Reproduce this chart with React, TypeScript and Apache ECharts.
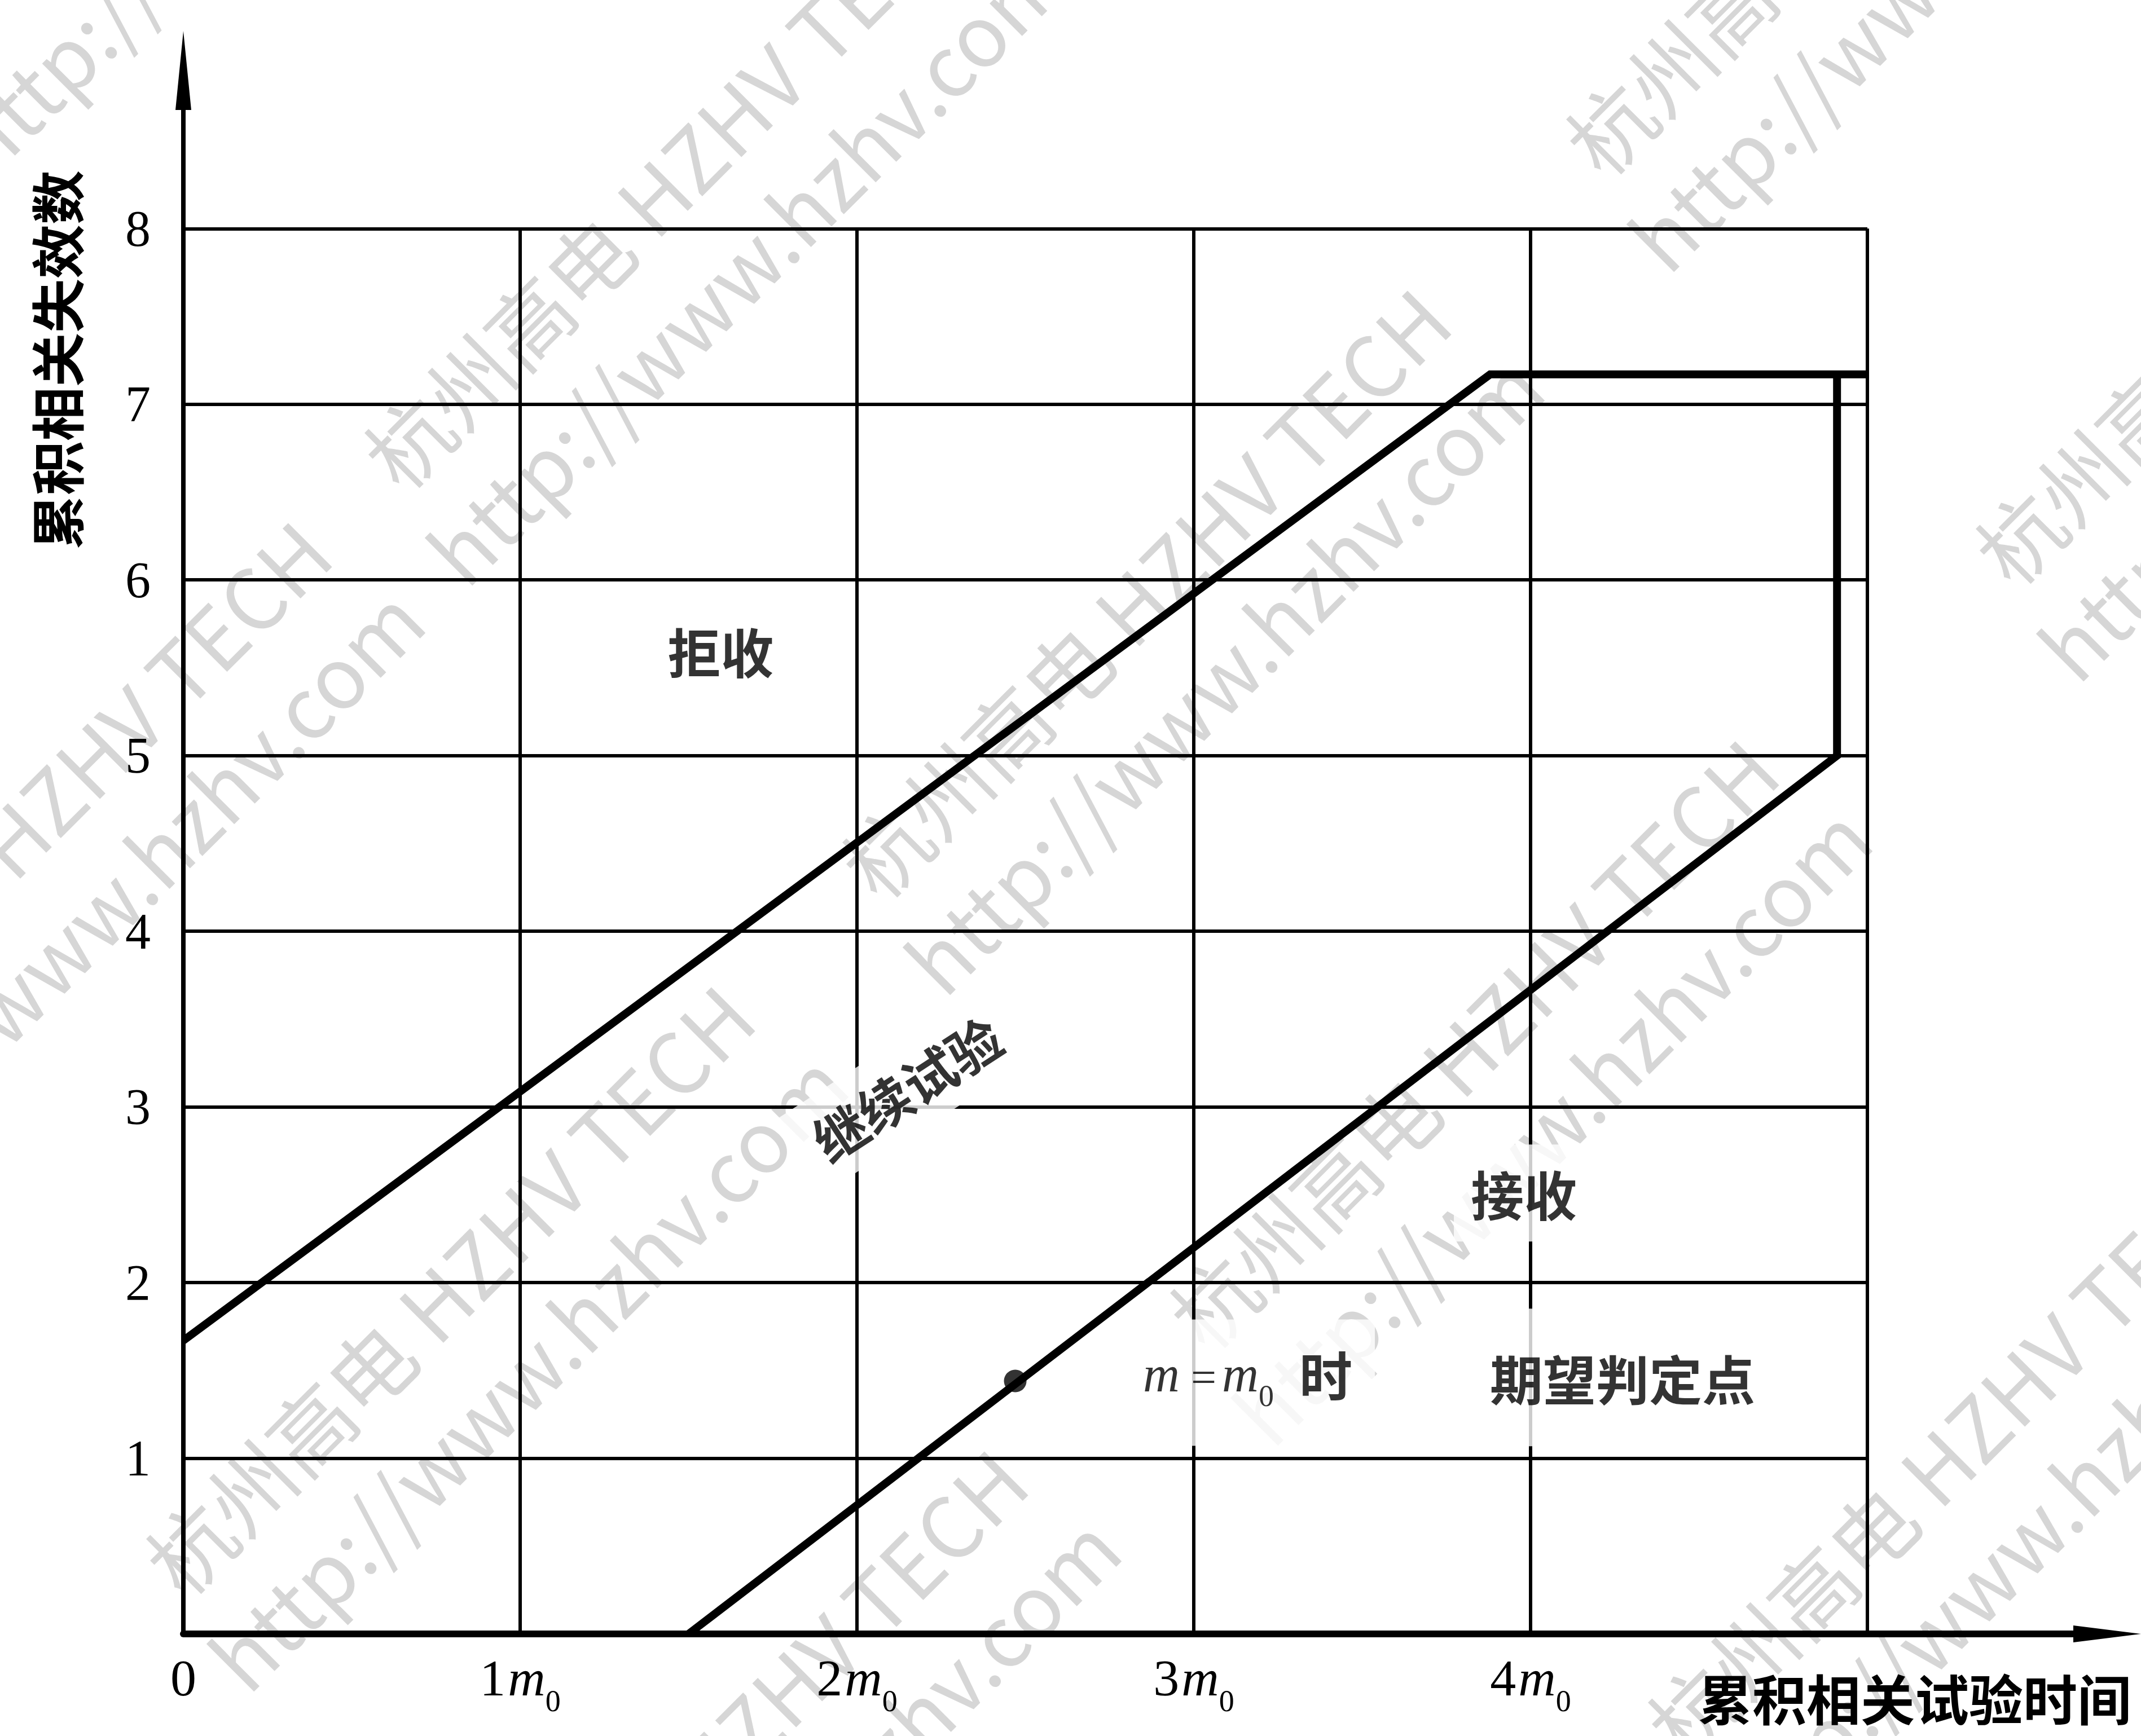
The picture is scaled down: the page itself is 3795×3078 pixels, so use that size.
import React, { useEffect, useRef } from 'react';
import * as echarts from 'echarts';

// ---- data ----
const xTicks = [0, 1, 2, 3, 4, 5]; // multiples of m0
const yTicks = [1, 2, 3, 4, 5, 6, 7, 8];
const xTickMultiples = [1, 2, 3, 4];
const xMaxGrid = 5;
const yMaxGrid = 8;
const rejectLine = [
  [0, 1.67],
  [3.88, 7.17],
  [5.0, 7.17],
];
const acceptLine = [
  [1.5, 0],
  [4.91, 5.0],
  [4.91, 7.17],
];
const decisionPoint = [[2.47, 1.44]];
const regionNames = ['拒收', '继续试验', '接收', 'm = m0 时', '期望判定点'];
const regionPositions = [
  [1.595, 5.6],
  [2.146, 3.11],
  [3.98, 2.51],
  [3.16, 1.43],
  [4.273, 1.46],
];
const yAxisTitle = '累积相关失效数';
const xAxisTitle = '累积相关试验时间';
const watermarkLine1 = '杭州高电 HZHV TECH';
const watermarkLine2 = 'http://www.hzhv.com';

export default function App() {
  const ref = useRef<HTMLDivElement>(null);

  useEffect(() => {
    const el = ref.current;
    if (!el) return;
    const chart = echarts.init(el, null, { renderer: 'svg' });
    const serif = '"Liberation Serif", "Times New Roman", serif';
    const cjk = '"Noto Sans CJK SC", sans-serif';
    const cjkWeight = 'bold';

    const gridSegments: number[][][] = [];
    xTicks
      .filter((v) => v > 0)
      .forEach((v) => gridSegments.push([[v, 0], [v, yMaxGrid]]));
    yTicks.forEach((v) => gridSegments.push([[0, v], [xMaxGrid, v]]));

    const regionLabelStyles: any[] = [
      { backgroundColor: 'transparent', padding: 0 },
      { rotate: 33, padding: [28, 36, 28, 36] },
      { padding: [36, 30, 36, 30] },
      { padding: [62, 40, 62, 40] },
      { padding: [72, 30, 72, 30] },
    ];
    const regionFormats = [
      '{cn|拒收}',
      '{cn|继续试验}',
      '{cn|接收}',
      '{mi|m}{eq| =}{mi|m}{sub|0}{cnl|时}',
      '{cn|期望判定点}',
    ];

    // watermark anchors (pixel layout)
    const wmAnchors = [
      [-179, 106],
      [-469, 1970],
      [668, 832],
      [281, 2793],
      [1515, 1558],
      [2798, 276],
      [765, 3616],
      [2096, 2357],
      [3524, 1002],
      [2943, 3083],
    ];
    const wmStyle = {
      fontSize: 150,
      fontFamily: cjk,
      fill: '#d6d6d6',
      align: 'left',
      verticalAlign: 'middle',
    };

    const graphic: any[] = wmAnchors.map(([x, y]) => ({
      type: 'group',
      x,
      y,
      rotation: Math.PI / 4,
      silent: true,
      z: -10,
      children: [
        { type: 'text', x: 0, y: 0, z: -10, style: { ...wmStyle, text: watermarkLine1 } },
        { type: 'text', x: -40, y: 200, z: -10, style: { ...wmStyle, text: watermarkLine2 } },
      ],
    }));
    graphic.push({
      type: 'text',
      x: 97,
      y: 638,
      rotation: Math.PI / 2,
      style: {
        text: yAxisTitle,
        fontSize: 96,
        fontFamily: cjk,
        fontWeight: cjkWeight,
        fill: '#000',
        align: 'center',
        verticalAlign: 'middle',
      },
    });
    graphic.push({
      type: 'text',
      x: 3010,
      y: 3008,
      style: {
        text: xAxisTitle,
        fontSize: 96,
        fontFamily: cjk,
        fontWeight: cjkWeight,
        fill: '#000',
        align: 'left',
        verticalAlign: 'middle',
      },
    });

    const option: any = {
      animation: false,
      backgroundColor: '#ffffff',
      grid: {
        left: 325,
        right: 60,
        top: 125,
        bottom: 181,
        containLabel: false,
        outerBoundsMode: 'none',
      },
      xAxis: {
        type: 'value',
        min: 0,
        max: 5.712,
        interval: 1,
        axisLine: {
          show: true,
          symbol: ['none', 'triangle'],
          symbolSize: [30, 120],
          lineStyle: { color: '#000', width: 12 },
        },
        axisTick: { show: false },
        splitLine: { show: false },
        axisLabel: {
          margin: 46,
          color: '#000',
          formatter: (v: number) => {
            if (v === 0) return '{a|0}';
            if (xTickMultiples.indexOf(v) >= 0) return `{a|${v}}{m|m}{s|0}`;
            return '';
          },
          rich: {
            a: { fontSize: 92, fontFamily: serif, color: '#000', lineHeight: 100, padding: [0, 0, 22, 0], verticalAlign: 'bottom' },
            m: { fontSize: 92, fontFamily: serif, fontStyle: 'italic', color: '#000', lineHeight: 100, padding: [0, 0, 22, 4], verticalAlign: 'bottom' },
            s: { fontSize: 54, fontFamily: serif, color: '#000', lineHeight: 54, verticalAlign: 'bottom' },
          },
        },
      },
      yAxis: {
        type: 'value',
        min: 0,
        max: 8.9,
        interval: 1,
        axisLine: {
          show: true,
          symbol: ['none', 'triangle'],
          symbolSize: [28, 140],
          lineStyle: { color: '#000', width: 8 },
        },
        axisTick: { show: false },
        splitLine: { show: false },
        axisLabel: {
          margin: 58,
          color: '#000',
          fontSize: 90,
          fontFamily: serif,
          padding: [0, 0, 40, 0],
          formatter: (v: number) => (yTicks.indexOf(v) >= 0 ? String(v) : ''),
        },
      },
      graphic,
      series: [
        {
          type: 'lines',
          coordinateSystem: 'cartesian2d',
          silent: true,
          z: 1,
          lineStyle: { color: '#000', width: 6, opacity: 1, curveness: 0 },
          data: gridSegments.map((s) => ({ coords: s })),
        },
        {
          type: 'scatter',
          silent: true,
          z: 2,
          symbol: 'rect',
          symbolSize: 2,
          itemStyle: { color: 'rgba(255,255,255,0)' },
          label: {
            show: true,
            position: 'inside',
            color: '#000',
            backgroundColor: '#ffffff',
            formatter: (p: any) => regionFormats[p.dataIndex],
            rich: {
              cn: { fontSize: 94, fontFamily: cjk, fontWeight: cjkWeight, color: '#000', lineHeight: 100 },
              cnl: { fontSize: 94, fontFamily: cjk, fontWeight: cjkWeight, color: '#000', lineHeight: 100, padding: [0, 0, 20, 45], verticalAlign: 'bottom' },
              mi: { fontSize: 90, fontFamily: serif, fontStyle: 'italic', color: '#000', lineHeight: 100, padding: [0, 0, 20, 0], verticalAlign: 'bottom' },
              eq: { fontSize: 80, fontFamily: serif, color: '#000', lineHeight: 100, padding: [0, 10, 20, 0], verticalAlign: 'bottom' },
              sub: { fontSize: 54, fontFamily: serif, color: '#000', lineHeight: 54, verticalAlign: 'bottom' },
            },
          },
          labelLayout: { hideOverlap: false },
          data: regionPositions.map((v, i) => ({
            name: regionNames[i],
            value: v,
            label: regionLabelStyles[i],
          })),
        },
        {
          type: 'line',
          name: '拒收线',
          z: 3,
          clip: false,
          showSymbol: false,
          symbol: 'none',
          lineStyle: { color: '#000', width: 14, join: 'miter' },
          data: rejectLine,
        },
        {
          type: 'line',
          name: '接收线',
          z: 3,
          clip: false,
          showSymbol: false,
          symbol: 'none',
          lineStyle: { color: '#000', width: 14, join: 'miter' },
          data: acceptLine,
        },
        {
          type: 'scatter',
          name: '期望判定点',
          z: 4,
          symbol: 'circle',
          symbolSize: 40,
          itemStyle: { color: '#000' },
          data: decisionPoint,
        },
      ],
    };

    chart.setOption(option);
    return () => chart.dispose();
  }, []);

  return (
    <div
      ref={ref}
      style={{ position: 'fixed', left: 0, top: 0, width: 3795, height: 3078, background: '#ffffff' }}
    />
  );
}
